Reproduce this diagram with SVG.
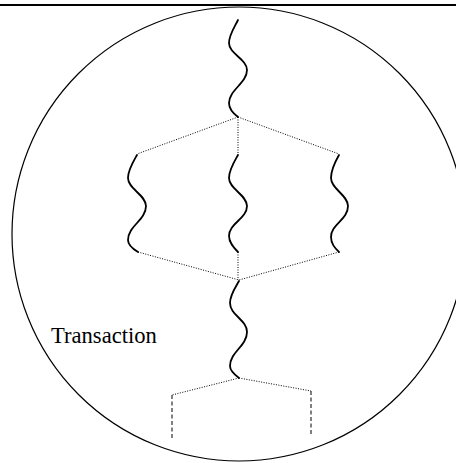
<svg xmlns="http://www.w3.org/2000/svg" width="456" height="463" viewBox="0 0 456 463">
<style>
.wave{fill:none;stroke:#000;stroke-width:1.8;stroke-linecap:round}
.dot{fill:none;stroke:#000;stroke-width:1;stroke-dasharray:1 1.5}
.dash{fill:none;stroke:#000;stroke-width:1;stroke-dasharray:4 2.5}
.lbl{font-family:"Liberation Serif","Times New Roman",serif;font-size:22.6px;fill:#000}
</style>
<rect width="456" height="463" fill="#fff"/>
<line x1="0" y1="5" x2="456" y2="5" stroke="#000" stroke-width="2"/>
<g id="transaction">
<circle cx="239" cy="234" r="227" fill="none" stroke="#000" stroke-width="1.2"/>
<text class="lbl" x="51" y="343">Transaction</text>
</g>
<g id="connectors">
<path class="dot" d="M238,117 L137,154 M238,117 L339,154 M238,117 L238,155"/>
<path class="dot" d="M138,252 L239,280 M339,252 L239,280 M238,252 L238,280"/>
<path class="dot" d="M239,378 L172,395 M239,378 L311,391"/>
<path class="dash" d="M172,395 L172,438 M311,391 L311,434"/>
</g>
<g id="thread-top">
<path class="wave" d="M238,20 C234,28 229,35 229,43 C229,54 247,59 247,70 C247,83 229,90 229,103 C229,110 234,114 238,117"/>
</g>
<g id="thread-left">
<path class="wave" d="M137,155 C133,162 128,170 128,178 C128,189 146,195 146,206 C146,220 128,226 128,240 C128,245 133,249 138,252"/>
</g>
<g id="thread-middle">
<path class="wave" d="M238,155 C234,162 229,170 229,178 C229,189 247,195 247,206 C247,219 229,223 229,236 C229,243 234,248 238,252"/>
</g>
<g id="thread-right">
<path class="wave" d="M339,155 C335,162 331,170 331,178 C331,189 348,195 348,206 C348,220 331,224 331,237 C331,244 335,248 339,252"/>
</g>
<g id="thread-bottom">
<path class="wave" d="M239,281 C235,288 230,295 230,303 C230,315 247,320 247,332 C247,346 230,352 230,366 C230,371 235,375 239,378"/>
</g>
</svg>
